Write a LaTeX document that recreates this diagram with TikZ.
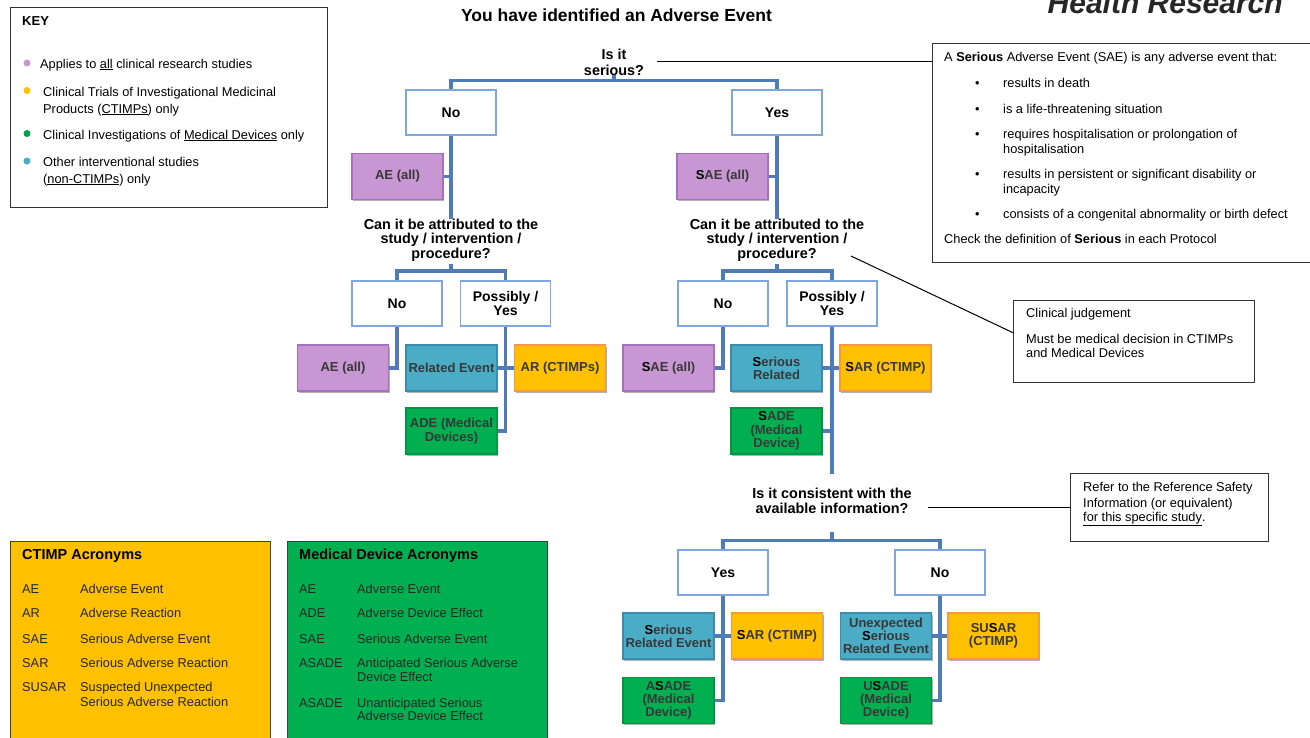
\documentclass[tikz,border=0pt]{standalone}
\usepackage{fontspec}
\setmainfont{Liberation Sans}
\usetikzlibrary{shadows}
\definecolor{connc}{RGB}{79,124,182}
\definecolor{wborder}{RGB}{126,166,224}
\definecolor{purpf}{RGB}{200,150,210}
\definecolor{purpd}{RGB}{170,110,190}
\definecolor{bluef}{RGB}{75,172,198}
\definecolor{blued}{RGB}{60,140,175}
\definecolor{orangef}{RGB}{255,192,0}
\definecolor{oranged}{RGB}{247,150,70}
\definecolor{greenf}{RGB}{0,176,80}
\definecolor{greend}{RGB}{0,150,70}
\definecolor{keygreen}{RGB}{0,160,70}
\newcommand\emS{\textcolor{black}{S}}
\tikzset{
 conn/.style={draw=connc, line width=3.5pt},
 note/.style={draw=black, line width=1.6pt},
 wbox/.style={draw=wborder, line width=1.8pt, fill=white, minimum width=90pt, minimum height=45pt, inner sep=1pt, align=center, font=\fontsize{14}{14.5}\selectfont\bfseries},
 cbox/.style={line width=1.2pt, minimum width=91pt, minimum height=46pt, inner sep=1pt, align=center, font=\fontsize{13}{13.3}\selectfont\bfseries, text=black!78, drop shadow={shadow xshift=1.2pt, shadow yshift=-1.6pt, opacity=0.3, fill=black}},
 pbox/.style={cbox, fill=purpf, draw=purpd},
 bbox/.style={cbox, fill=bluef, draw=blued},
 obox/.style={cbox, fill=orangef, draw=oranged},
 gbox/.style={cbox, fill=greenf, draw=greend},
 quest/.style={align=center, inner sep=0pt, font=\fontsize{14.4}{14.5}\selectfont\bfseries},
 txt/.style={anchor=base west, inner sep=0pt, font=\fontsize{12.8}{15}\selectfont},
 acr/.style={anchor=base west, inner sep=0pt, font=\fontsize{12.8}{15}\selectfont, text=black!85},
 infobox/.style={draw=black!80, line width=1.4pt, fill=white, anchor=north west, inner sep=0pt},
 dot/.style={circle, inner sep=0pt, minimum size=7pt},
}
\begin{document}
\begin{tikzpicture}[x=1pt,y=-1pt]
\useasboundingbox (0,0) rectangle (1310,737);

% header
\node[anchor=base, font=\fontsize{17.5}{18}\selectfont\bfseries, inner sep=0pt] (title) at (616.5,21) {You have identified an Adverse Event};
\node[anchor=base east, font=\fontsize{30}{30}\selectfont\bfseries\itshape, inner sep=0pt, text=black!85] (hr) at (1283,13) {Health Research};

% key
\node[infobox, minimum width=317pt, minimum height=200pt] (key) at (10,7) {};
\node[txt, font=\fontsize{13}{15}\selectfont\bfseries] (keyt) at (22,25) {KEY};
\node[dot, fill=purpf] (d1) at (27,63) {};
\node[dot, fill=orangef] (d2) at (27,90.5) {};
\node[dot, fill=keygreen] (d3) at (27,133.5) {};
\node[dot, fill=bluef] (d4) at (27,161) {};
\node[txt] (k1) at (40,68) {Applies to \underline{all} clinical research studies};
\node[txt] (k2) at (43,96) {Clinical Trials of Investigational Medicinal};
\node[txt] (k3) at (43,113) {Products (\underline{CTIMPs}) only};
\node[txt] (k4) at (43,139) {Clinical Investigations of \underline{Medical Devices} only};
\node[txt] (k5) at (43,166) {Other interventional studies};
\node[txt] (k6) at (43,183) {(\underline{non-CTIMPs}) only};

% SAE definition box
\node[infobox, minimum width=390pt, minimum height=219pt] (sae) at (932,43) {};
\node[txt] (s0) at (944,61) {A \textbf{Serious} Adverse Event (SAE) is any adverse event that:};
\node[txt] (b1) at (975,87) {•};
\node[txt] (s1) at (1003,87) {results in death};
\node[txt] (b2) at (975,113) {•};
\node[txt] (s2) at (1003,113) {is a life-threatening situation};
\node[txt] (b3) at (975,138) {•};
\node[txt] (s3) at (1003,138) {requires hospitalisation or prolongation of};
\node[txt] (s3b) at (1003,153) {hospitalisation};
\node[txt] (b4) at (975,178) {•};
\node[txt] (s4) at (1003,178) {results in persistent or significant disability or};
\node[txt] (s4b) at (1003,193) {incapacity};
\node[txt] (b5) at (975,218) {•};
\node[txt] (s5) at (1003,218) {consists of a congenital abnormality or birth defect};
\node[txt] (s6) at (944,243) {Check the definition of \textbf{Serious} in each Protocol};

% clinical judgement box
\node[infobox, minimum width=241pt, minimum height=82pt] (clin) at (1013,300) {};
\node[txt] (c1) at (1026,317) {Clinical judgement};
\node[txt] (c2) at (1026,343) {Must be medical decision in CTIMPs};
\node[txt] (c3) at (1026,357) {and Medical Devices};

% reference box
\node[infobox, minimum width=198pt, minimum height=68pt] (refer) at (1070,473) {};
\node[txt] (r1) at (1083,491) {Refer to the Reference Safety};
\node[txt] (r2) at (1083,507) {Information (or equivalent)};
\node[txt] (r3) at (1083,521) {\underline{for this specific study}.};

% acronym boxes
\node[draw=black!75, line width=1.4pt, fill=orangef, anchor=north west, minimum width=260pt, minimum height=210pt] (ctimp) at (10,541) {};
\node[draw=black!75, line width=1.4pt, fill=greenf, anchor=north west, minimum width=260pt, minimum height=210pt] (mdev) at (287,541) {};
\node[acr, font=\fontsize{14.5}{15}\selectfont\bfseries, text=black] (ct) at (22,559) {CTIMP Acronyms};
\node[acr] (ca1) at (22,593) {AE};
\node[acr] (cb1) at (80,593) {Adverse Event};
\node[acr] (ca2) at (22,617) {AR};
\node[acr] (cb2) at (80,617) {Adverse Reaction};
\node[acr] (ca3) at (22,643) {SAE};
\node[acr] (cb3) at (80,643) {Serious Adverse Event};
\node[acr] (ca4) at (22,667) {SAR};
\node[acr] (cb4) at (80,667) {Serious Adverse Reaction};
\node[acr] (ca5) at (22,691) {SUSAR};
\node[acr] (cb5) at (80,691) {Suspected Unexpected};
\node[acr] (cb5b) at (80,706) {Serious Adverse Reaction};
\node[acr, font=\fontsize{14.5}{15}\selectfont\bfseries, text=black] (mt) at (299,559) {Medical Device Acronyms};
\node[acr] (ma1) at (299,593) {AE};
\node[acr] (mb1) at (357,593) {Adverse Event};
\node[acr] (ma2) at (299,617) {ADE};
\node[acr] (mb2) at (357,617) {Adverse Device Effect};
\node[acr] (ma3) at (299,643) {SAE};
\node[acr] (mb3) at (357,643) {Serious Adverse Event};
\node[acr] (ma4) at (299,667) {ASADE};
\node[acr] (mb4) at (357,667) {Anticipated Serious Adverse};
\node[acr] (mb4b) at (357,681) {Device Effect};
\node[acr] (ma5) at (299,707) {ASADE};
\node[acr] (mb5) at (357,707) {Unanticipated Serious};
\node[acr] (mb5b) at (357,720) {Adverse Device Effect};

% questions
\node[quest, font=\fontsize{14.4}{16}\selectfont\bfseries] (q1) at (614,62) {Is it\\serious?};
\node[quest] (q2l) at (451,240) {Can it be attributed to the\\study / intervention /\\procedure?};
\node[quest] (q2r) at (777,240) {Can it be attributed to the\\study / intervention /\\procedure?};
\node[quest, font=\fontsize{14.4}{15}\selectfont\bfseries] (q3) at (832,500.5) {Is it consistent with the\\available information?};

% answer boxes
\node[wbox] (no1) at (451,112.5) {No};
\node[wbox] (yes1) at (777,112.5) {Yes};
\node[wbox] (no2) at (397,303.5) {No};
\node[wbox] (py2) at (505.5,303.5) {Possibly /\\Yes};
\node[wbox] (no3) at (723,303.5) {No};
\node[wbox] (py3) at (832,303.5) {Possibly /\\Yes};
\node[wbox] (yes4) at (723,572.5) {Yes};
\node[wbox] (no4) at (940,572.5) {No};

% classification boxes
\node[pbox] (ae1) at (397.5,176.5) {AE (all)};
\node[pbox] (sae1) at (722.5,176.5) {\emS AE (all)};
\node[pbox] (ae2) at (343,368) {AE (all)};
\node[bbox] (re) at (451.5,368) {Related Event};
\node[obox] (ar) at (560,368) {AR (CTIMPs)};
\node[gbox] (ade) at (451.5,431) {ADE (Medical\\Devices)};
\node[pbox] (sae2) at (668.5,368) {\emS AE (all)};
\node[bbox] (sr) at (776.5,368) {\emS erious\\Related};
\node[obox] (sar) at (885.5,368) {\emS AR (CTIMP)};
\node[gbox] (sade) at (776.5,431) {\emS ADE\\(Medical\\Device)};
\node[bbox] (sre) at (668.5,636) {\emS erious\\Related Event};
\node[obox] (sar2) at (777,636) {\emS AR (CTIMP)};
\node[gbox] (asade) at (668.5,700.5) {A\emS ADE\\(Medical\\Device)};
\node[bbox] (usre) at (886,636) {Unexpected\\\emS erious\\Related Event};
\node[obox] (susar) at (993.5,636) {SU\emS AR\\(CTIMP)};
\node[gbox] (usade) at (886,700.5) {U\emS ADE\\(Medical\\Device)};

% connectors
\coordinate (bus1) at (614,80.5);
\draw[conn] (q1.south) -- (bus1);
\draw[conn] (no1.north) |- (bus1) -| (yes1.north);

\draw[conn] (no1.south) -- (q2l.north);
\draw[conn] (ae1.east) -- (ae1.east -| no1.south);
\coordinate (bus2) at (451,271);
\draw[conn] ([yshift=-3pt]q2l.south) -- (bus2);
\draw[conn] (no2.north) |- (bus2) -| (py2.north);
\draw[conn] (no2.south) |- (ae2.east);
\draw[conn] (py2.south) |- (ade.east);
\draw[conn] (re.east) -- (ar.west);

\draw[conn] (yes1.south) -- (q2r.north);
\draw[conn] (sae1.east) -- (sae1.east -| yes1.south);
\coordinate (bus3) at (777,271);
\draw[conn] ([yshift=-3pt]q2r.south) -- (bus3);
\draw[conn] (no3.north) |- (bus3) -| (py3.north);
\draw[conn] (no3.south) |- (sae2.east);
\draw[conn] (sr.east) -- (sar.west);
\draw[conn] (sade.east) -- (sade.east -| py3.south);
\draw[conn, shorten >=14pt] (py3.south) -- (q3.north);

\coordinate (bus4) at (832,540.5);
\draw[conn] ([yshift=-19pt]q3.south) -- (bus4);
\draw[conn] (yes4.north) |- (bus4) -| (no4.north);
\draw[conn] (yes4.south) |- (asade.east);
\draw[conn] (sre.east) -- (sar2.west);
\draw[conn] (no4.south) |- (usade.east);
\draw[conn] (usre.east) -- (susar.west);

% annotation lines
\coordinate (n1) at (657,61.5);
\draw[note] (n1) -- (n1 -| sae.west);
\coordinate (n2) at (851,256);
\draw[note, line width=1pt] (n2) -- ([yshift=9pt]clin.west);
\coordinate (n3) at (928,507.5);
\draw[note] (n3) -- (n3 -| refer.west);
\end{tikzpicture}
\end{document}
